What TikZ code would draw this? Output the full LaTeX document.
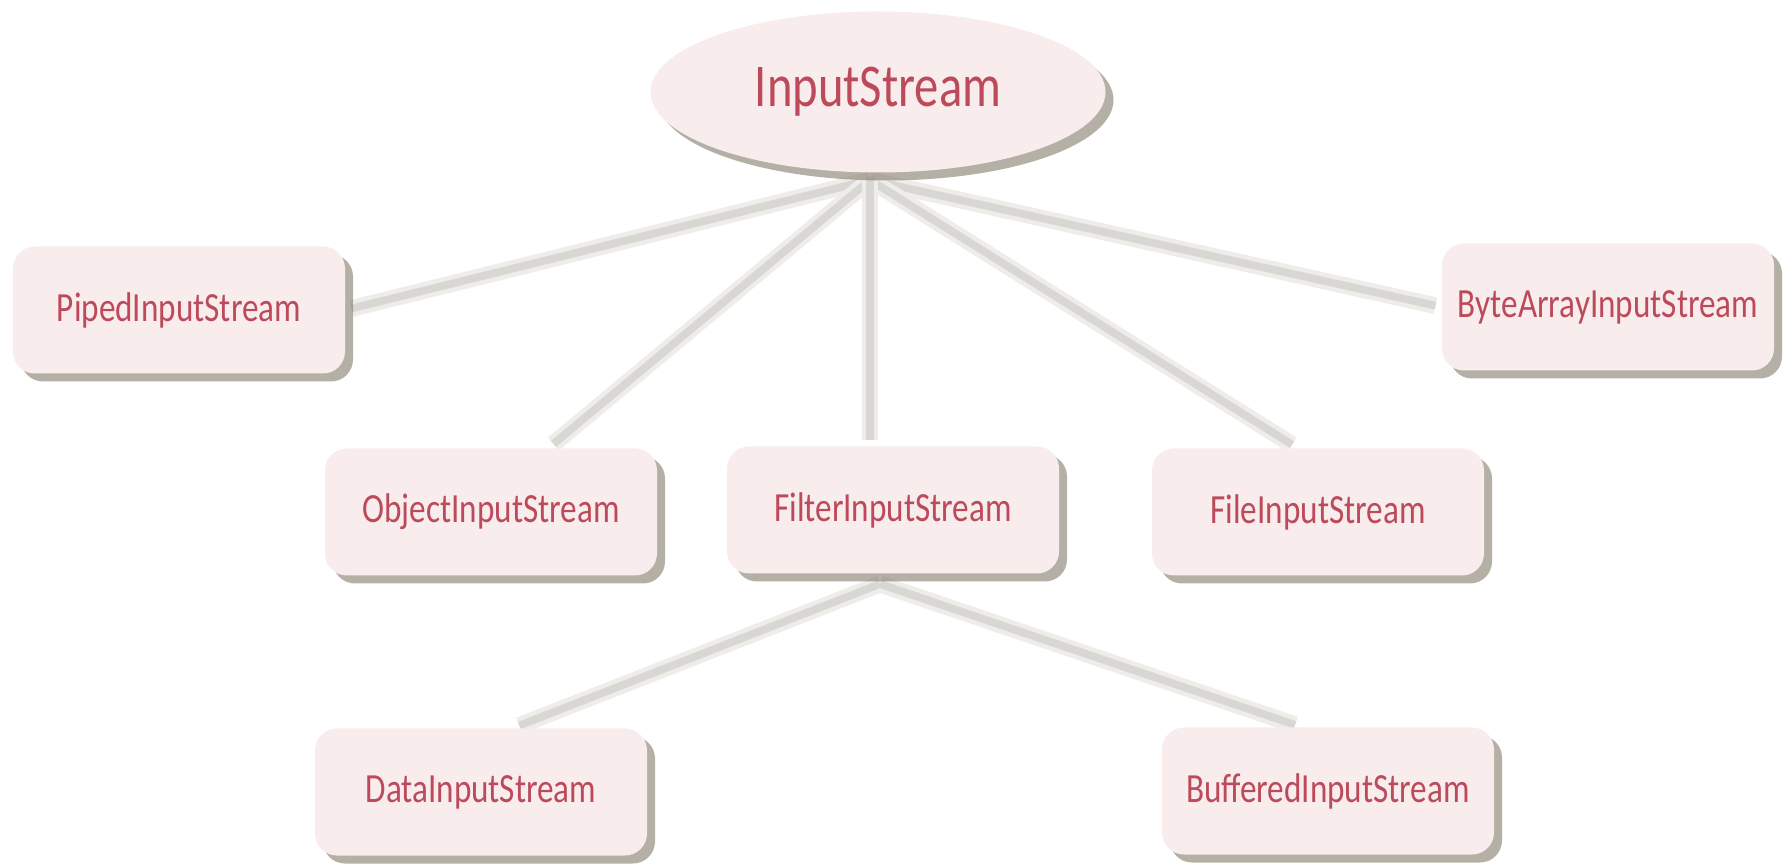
\documentclass[tikz,border=0pt]{standalone}
\usepackage{fontspec}
\newfontfamily\streamfont[FakeStretch=0.8]{Carlito}
\usetikzlibrary{shadows,shapes.geometric,backgrounds}
\definecolor{streamred}{RGB}{188,74,90}
\definecolor{streamfill}{RGB}{248,236,236}
\definecolor{streamedge}{RGB}{238,237,233}
\definecolor{streamline}{RGB}{216,215,211}
\definecolor{streamshadow}{RGB}{120,112,92}
\begin{document}
\begin{tikzpicture}[
    classbox/.style={draw=none, fill=streamfill, rounded corners=0.22cm,
      minimum width=3.32cm, minimum height=1.27cm, text=streamred,
      font=\streamfont\fontsize{11.8}{14}\selectfont,
      drop shadow={shadow xshift=0.08cm, shadow yshift=-0.08cm,
        fill=streamshadow, opacity=0.55}},
    rootnode/.style={ellipse, draw=none, fill=streamfill, minimum width=4.55cm,
      minimum height=1.61cm, text=streamred,
      font=\streamfont\fontsize{17.3}{20}\selectfont,
      drop shadow={shadow xshift=0.08cm, shadow yshift=-0.08cm,
        fill=streamshadow, opacity=0.55}},
    link/.style={draw=streamedge, line width=1.3pt, double=streamline,
      double distance=2.2pt, shorten >=0.06cm}
  ]
  \useasboundingbox (0,0) rectangle (17.9,8.66);

  % Classes
  \node[rootnode] (input) at (8.78,7.74) {InputStream};
  \node[classbox] (piped) at (1.79,5.56) {PipedInputStream};
  \node[classbox] (bytearr) at (16.08,5.59) {ByteArrayInputStream};
  \node[classbox] (object) at (4.91,3.54) {ObjectInputStream};
  \node[classbox] (filter) at (8.93,3.56) {FilterInputStream};
  \node[classbox] (file) at (13.18,3.54) {FileInputStream};
  \node[classbox] (data) at (4.81,0.74) {DataInputStream};
  \node[classbox] (buffered) at (13.28,0.75) {BufferedInputStream};

  % Connectors
  \coordinate (hub) at (8.70,6.86);
  \coordinate (subhub) at (8.80,2.82);
  \begin{scope}[on background layer]
    \foreach \child/\side in {piped/east,bytearr/west,object/48,file/108}
    {
      \draw[link] (hub) -- (\child.\side);
    }
    \draw[link] (hub) -- (hub |- filter.north);
    \foreach \child/\side in {data/63,buffered/113}
    {
      \draw[link] (subhub) -- (\child.\side);
    }
  \end{scope}
\end{tikzpicture}
\end{document}
